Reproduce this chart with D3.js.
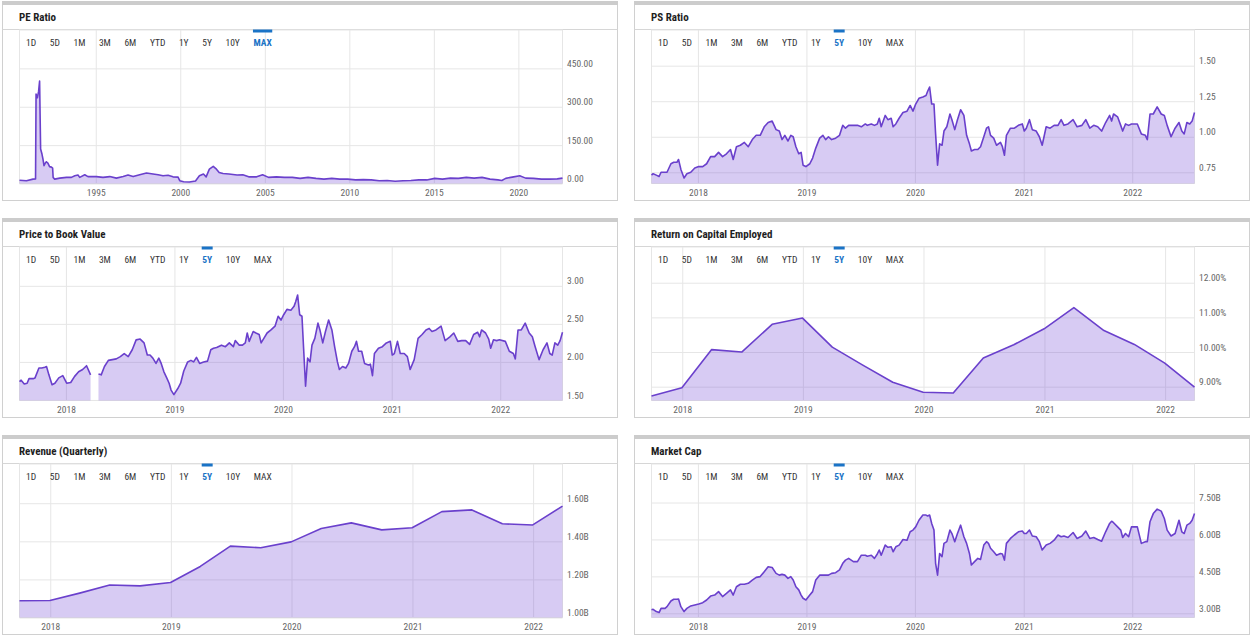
<!DOCTYPE html>
<html>
<head>
<meta charset="utf-8">
<script src="https://cdn.jsdelivr.net/npm/d3@7"></script>
<style>
  body { margin: 0; background: #fff; }
  svg text { font-family: "Liberation Sans Narrow", "Roboto Condensed", "Arial Narrow", Roboto, sans-serif; }
  .title { font-size: 11px; font-weight: bold; fill: #1e1e1e; }
  .btn { font-size: 9.5px; fill: #333; }
  .btn.on { fill: #1a73c6; font-weight: bold; }
  .tick text { font-size: 9.5px; fill: #666; }
</style>
</head>
<body>
<svg id="chart" width="1252" height="638"></svg>
<script>
// ---- data ----
const ranges = ['1D', '5D', '1M', '3M', '6M', 'YTD', '1Y', '5Y', '10Y', 'MAX'];

// PE ratio, decimal years
const peYears = [1990.49, 1990.90, 1991.29, 1991.44, 1991.47, 1991.55, 1991.62, 1991.68, 1991.74, 1991.82,
  1991.88, 1991.94, 1992.00, 1992.08, 1992.17, 1992.27, 1992.38, 1992.45, 1992.48, 1992.57,
  1992.87, 1993.27, 1993.56, 1993.76, 1993.95, 1994.05, 1994.35, 1994.54, 1995.04, 1995.43,
  1995.83, 1996.22, 1996.62, 1996.91, 1997.21, 1997.60, 1998.00, 1998.39, 1998.69, 1998.98,
  1999.28, 1999.57, 1999.87, 1999.97, 2000.20, 2000.54, 2000.90, 2001.13, 2001.37, 2001.53,
  2001.72, 2001.95, 2002.14, 2002.30, 2002.53, 2002.88, 2003.36, 2003.70, 2004.05, 2004.52,
  2004.87, 2005.22, 2005.69, 2006.16, 2006.63, 2007.09, 2007.56, 2008.03, 2008.50, 2008.96,
  2009.43, 2009.90, 2010.37, 2010.83, 2011.30, 2011.77, 2012.24, 2012.71, 2013.18, 2013.64,
  2014.11, 2014.58, 2015.05, 2015.51, 2015.98, 2016.45, 2016.92, 2017.38, 2017.85, 2018.32,
  2018.79, 2019.02, 2019.25, 2019.72, 2020.08, 2020.43, 2020.89, 2021.36, 2021.83, 2022.30, 2022.61];
const peValues = [13, 11, 17, 18, 350, 335, 360, 400, 135, 115,
  95, 70, 78, 85, 80, 66, 64, 60, 24, 17,
  21, 24, 24, 30, 33, 24, 34, 27, 27, 24,
  27, 21, 27, 33, 27, 34, 41, 37, 34, 30,
  32, 26, 25, 11, 7, 6, 10, 30, 37, 26,
  56, 67, 56, 43, 39, 37, 33, 34, 26, 26,
  34, 24, 26, 24, 24, 20, 24, 20, 17, 20,
  17, 17, 14, 15, 14, 11, 12, 9, 11, 12,
  14, 14, 20, 17, 21, 20, 24, 21, 24, 17,
  14, 12, 20, 26, 30, 21, 20, 17, 17, 18, 21];

// shared dates for the 5Y daily series, decimal years
const days5y = [2017.572, 2017.587, 2017.616, 2017.642, 2017.660, 2017.697, 2017.715, 2017.751, 2017.777, 2017.806,
  2017.821, 2017.843, 2017.872, 2017.898, 2017.934, 2017.971, 2018.007, 2018.044, 2018.080, 2018.117,
  2018.154, 2018.190, 2018.227, 2018.263, 2018.300, 2018.325, 2018.355, 2018.391, 2018.428, 2018.464,
  2018.501, 2018.537, 2018.574, 2018.611, 2018.647, 2018.684, 2018.720, 2018.750, 2018.775, 2018.801,
  2018.830, 2018.856, 2018.878, 2018.903, 2018.929, 2018.951, 2018.969, 2018.995, 2019.031, 2019.057,
  2019.086, 2019.122, 2019.152, 2019.177, 2019.203, 2019.232, 2019.269, 2019.305, 2019.335, 2019.360,
  2019.389, 2019.433, 2019.470, 2019.506, 2019.543, 2019.561, 2019.598, 2019.627, 2019.653, 2019.671,
  2019.689, 2019.726, 2019.751, 2019.781, 2019.799, 2019.824, 2019.854, 2019.890, 2019.927, 2019.956,
  2019.982, 2020.007, 2020.037, 2020.073, 2020.102, 2020.117, 2020.135, 2020.154, 2020.175, 2020.190,
  2020.208, 2020.227, 2020.249, 2020.267, 2020.293, 2020.322, 2020.340, 2020.366, 2020.391, 2020.420,
  2020.450, 2020.475, 2020.501, 2020.519, 2020.548, 2020.578, 2020.603, 2020.633, 2020.658, 2020.676,
  2020.695, 2020.724, 2020.750, 2020.786, 2020.804, 2020.823, 2020.841, 2020.878, 2020.914, 2020.951,
  2020.987, 2021.005, 2021.024, 2021.053, 2021.079, 2021.115, 2021.144, 2021.170, 2021.207, 2021.243,
  2021.280, 2021.316, 2021.345, 2021.371, 2021.408, 2021.455, 2021.492, 2021.536, 2021.572, 2021.609,
  2021.645, 2021.682, 2021.718, 2021.755, 2021.792, 2021.810, 2021.828, 2021.865, 2021.894, 2021.912,
  2021.938, 2021.967, 2021.993, 2022.047, 2022.084, 2022.121, 2022.139, 2022.164, 2022.194, 2022.230,
  2022.267, 2022.296, 2022.322, 2022.358, 2022.395, 2022.431, 2022.457, 2022.479, 2022.504, 2022.530,
  2022.552, 2022.574];

const psValues = [0.73, 0.74, 0.73, 0.72, 0.75, 0.75, 0.75, 0.81, 0.82, 0.82,
  0.84, 0.77, 0.71, 0.74, 0.75, 0.78, 0.79, 0.79, 0.81, 0.86,
  0.86, 0.89, 0.86, 0.88, 0.91, 0.84, 0.93, 0.94, 0.96, 0.93,
  0.98, 1.01, 1.01, 1.07, 1.10, 1.11, 1.05, 1.04, 0.98, 1.01,
  0.97, 1.01, 1.00, 0.93, 0.88, 0.89, 0.80, 0.79, 0.81, 0.85,
  0.92, 0.99, 1.01, 0.98, 1.00, 0.98, 0.99, 1.01, 1.08, 1.06,
  1.08, 1.08, 1.08, 1.07, 1.09, 1.08, 1.09, 1.08, 1.09, 1.13,
  1.07, 1.15, 1.12, 1.13, 1.07, 1.09, 1.13, 1.17, 1.18, 1.22,
  1.18, 1.23, 1.27, 1.28, 1.29, 1.32, 1.35, 1.23, 1.23, 1.02,
  0.80, 0.95, 0.94, 1.04, 1.07, 1.16, 1.12, 1.05, 1.12, 1.19,
  1.15, 1.01, 0.95, 0.90, 0.91, 0.91, 0.93, 1.00, 1.06, 1.07,
  1.01, 0.99, 0.94, 0.96, 0.93, 0.87, 1.01, 1.06, 1.06, 1.08,
  1.09, 1.04, 1.06, 1.12, 1.05, 1.04, 1.00, 0.94, 1.07, 1.06,
  1.08, 1.08, 1.12, 1.08, 1.09, 1.12, 1.07, 1.08, 1.12, 1.06,
  1.08, 1.07, 1.04, 1.10, 1.15, 1.11, 1.16, 1.14, 1.08, 1.04,
  1.09, 1.08, 1.09, 1.09, 1.02, 1.01, 0.98, 1.16, 1.16, 1.21,
  1.16, 1.15, 1.08, 1.00, 1.06, 1.10, 1.04, 1.02, 1.10, 1.09,
  1.11, 1.17];

const pbValues = [1.74, 1.76, 1.71, 1.72, 1.78, 1.78, 1.79, 1.92, 1.92, 1.93,
  1.94, 1.83, 1.70, 1.72, 1.79, 1.82, 1.72, 1.73, 1.81, 1.87,
  1.90, 1.95, 1.83, null, 1.84, 1.83, 1.94, 2.02, 2.03, 2.04,
  2.07, 2.11, 2.07, 2.16, 2.29, 2.30, 2.25, 2.09, 2.09, 2.05,
  1.98, 2.05, 1.98, 1.87, 1.79, 1.72, 1.63, 1.57, 1.65, 1.72,
  1.88, 2.00, 2.02, 2.00, 2.06, 1.98, 2.00, 2.01, 2.16, 2.18,
  2.19, 2.22, 2.20, 2.25, 2.20, 2.28, 2.22, 2.22, 2.25, 2.38,
  2.27, 2.40, 2.38, 2.36, 2.25, 2.31, 2.38, 2.42, 2.47, 2.60,
  2.55, 2.62, 2.69, 2.68, 2.73, 2.79, 2.88, 2.62, 2.60, 2.18,
  1.68, 2.05, 2.00, 2.22, 2.31, 2.51, 2.42, 2.25, 2.40, 2.55,
  2.42, 2.20, 2.00, 1.90, 1.94, 1.92, 1.98, 2.14, 2.20, 2.27,
  2.14, 2.14, 1.98, 1.96, 1.97, 1.82, 2.11, 2.18, 2.20, 2.25,
  2.27, 2.09, 2.11, 2.27, 2.11, 2.11, 2.07, 1.90, 2.03, 2.31,
  2.36, 2.42, 2.44, 2.40, 2.42, 2.47, 2.28, 2.33, 2.38, 2.27,
  2.28, 2.28, 2.23, 2.36, 2.39, 2.33, 2.42, 2.38, 2.30, 2.18,
  2.29, 2.28, 2.29, 2.27, 2.14, 2.11, 2.04, 2.42, 2.42, 2.51,
  2.38, 2.33, 2.20, 2.03, 2.16, 2.25, 2.11, 2.09, 2.25, 2.22,
  2.28, 2.39];

// market cap, billions
const mcValues = [3.14, 3.16, 3.07, 3.03, 3.20, 3.20, 3.27, 3.50, 3.57, 3.57,
  3.58, 3.27, 3.07, 3.20, 3.30, 3.34, 3.38, 3.43, 3.54, 3.70,
  3.74, 3.88, 3.68, 3.81, 3.95, 3.74, 4.08, 4.18, 4.18, 4.22,
  4.35, 4.46, 4.49, 4.69, 4.89, 4.86, 4.62, 4.55, 4.58, 4.55,
  4.42, 4.49, 4.35, 4.08, 3.95, 3.74, 3.61, 3.54, 3.74, 3.88,
  4.35, 4.55, 4.55, 4.55, 4.55, 4.62, 4.65, 4.76, 5.03, 5.16,
  5.23, 5.10, 5.10, 5.36, 5.36, 5.32, 5.36, 5.23, 5.41, 5.57,
  5.36, 5.77, 5.68, 5.70, 5.50, 5.70, 5.77, 6.00, 5.97, 6.31,
  6.38, 6.51, 6.78, 6.99, 6.99, 6.95, 6.99, 6.65, 6.38, 5.03,
  4.55, 5.43, 5.30, 5.84, 5.91, 6.38, 6.24, 5.91, 6.24, 6.58,
  6.11, 5.84, 5.43, 4.96, 5.10, 5.23, 5.19, 5.77, 5.91, 5.84,
  5.64, 5.50, 5.36, 5.43, 5.41, 5.16, 5.84, 6.04, 6.18, 6.31,
  6.34, 6.24, 6.24, 6.38, 6.14, 6.11, 5.91, 5.57, 5.77, 5.84,
  5.97, 6.18, 6.11, 6.14, 6.08, 6.28, 6.04, 6.14, 6.34, 6.04,
  6.08, 6.00, 5.93, 6.31, 6.65, 6.74, 6.68, 6.51, 6.38, 6.08,
  6.24, 6.11, 6.51, 6.51, 5.84, 5.91, 5.91, 6.72, 7.05, 7.23,
  7.15, 6.85, 6.38, 6.14, 6.24, 6.78, 6.31, 6.24, 6.58, 6.65,
  6.78, 7.05];

// quarterly series
const quarters = ['2017-09-30', '2017-12-31', '2018-03-31', '2018-06-30', '2018-09-30', '2018-12-31',
  '2019-03-31', '2019-06-30', '2019-09-30', '2019-12-31', '2020-03-31', '2020-06-30', '2020-09-30',
  '2020-12-31', '2021-03-31', '2021-06-30', '2021-09-30', '2021-12-31', '2022-03-31'];
const roceValues = [8.73, 8.97, 10.07, 10.00, 10.80, 10.98, 10.14, 9.63, 9.13, 8.84,
  8.82, 9.83, 10.21, 10.67, 11.28, 10.62, 10.22, 9.68, 8.99];
const revenueValues = [1.088, 1.089, 1.128, 1.171, 1.166, 1.184, 1.268, 1.375, 1.366, 1.397,
  1.467, 1.497, 1.460, 1.471, 1.556, 1.565, 1.492, 1.486, 1.585];

// axis ticks
const peTicks = [0, 150, 300, 450];
const psTicks = [0.75, 1.00, 1.25, 1.50];
const pbTicks = [1.5, 2.0, 2.5, 3.0];
const roceTicks = [9, 10, 11, 12];
const revenueTicks = [1.0, 1.2, 1.4, 1.6];
const mcTicks = [3.0, 4.5, 6.0, 7.5];
const peYearTicks = [1995, 2000, 2005, 2010, 2015, 2020];
const yearTicks5y = [2018, 2019, 2020, 2021, 2022];

// ---- helpers ----
function yearToDate(y) {
  const yr = Math.floor(y);
  const a = new Date(yr, 0, 1), b = new Date(yr + 1, 0, 1);
  return new Date(a.getTime() + (y - yr) * (b - a));
}
const parseDay = d3.timeParse('%Y-%m-%d');
const jan1 = y => new Date(y, 0, 1);

const panels = [
  { title: 'PE Ratio', col: 0, row: 0, dates: peYears.map(yearToDate), values: peValues,
    yDomain: [0, 600], yTicks: peTicks, fmt: d3.format('.2f'), xTicks: peYearTicks.map(jan1), active: 'MAX' },
  { title: 'PS Ratio', col: 1, row: 0, dates: days5y.map(yearToDate), values: psValues,
    yDomain: [0.671, 1.751], yTicks: psTicks, fmt: d3.format('.2f'), xTicks: yearTicks5y.map(jan1), active: '5Y' },
  { title: 'Price to Book Value', col: 0, row: 1, dates: days5y.map(yearToDate), values: pbValues,
    yDomain: [1.493, 3.51], yTicks: pbTicks, fmt: d3.format('.2f'), xTicks: yearTicks5y.map(jan1), active: '5Y' },
  { title: 'Return on Capital Employed', col: 1, row: 1, dates: quarters.map(parseDay), values: roceValues,
    yDomain: [8.602, 13.03], yTicks: roceTicks, fmt: d => d3.format('.2f')(d) + '%', xTicks: yearTicks5y.map(jan1), active: '5Y' },
  { title: 'Revenue (Quarterly)', col: 0, row: 2, dates: quarters.map(parseDay), values: revenueValues,
    yDomain: [1.0, 1.806], yTicks: revenueTicks, fmt: d => d3.format('.2f')(d) + 'B', xTicks: yearTicks5y.map(jan1), active: '5Y' },
  { title: 'Market Cap', col: 1, row: 2, dates: days5y.map(yearToDate), values: mcValues,
    yDomain: [2.829, 9.064], yTicks: mcTicks, fmt: d => d3.format('.2f')(d) + 'B', xTicks: yearTicks5y.map(jan1), active: '5Y' }
];

const svg = d3.select('#chart');
const plotLeft = 19.5, plotRight = 562.5, plotTop = 30, plotBottom = 183.5;

panels.forEach(p => {
  const g = svg.append('g').attr('transform', `translate(${p.col * 632},${p.row * 217})`);

  // card frame
  g.append('rect').attr('x', 2.5).attr('y', 4.5).attr('width', 615).attr('height', 196)
    .attr('fill', '#fff').attr('stroke', '#d0d0d0');
  g.append('rect').attr('x', 2).attr('y', 1).attr('width', 616).attr('height', 4).attr('fill', '#cccccc');
  g.append('line').attr('x1', 2.5).attr('x2', 617.5).attr('y1', 29.5).attr('y2', 29.5).attr('stroke', '#d6d6d6');
  g.append('text').attr('class', 'title').attr('x', 19).attr('y', 21).text(p.title);

  const x = d3.scaleTime().domain(d3.extent(p.dates)).range([plotLeft, plotRight]);
  const y = d3.scaleLinear().domain(p.yDomain).range([plotBottom, plotTop]);

  // grid
  g.append('g').attr('transform', `translate(0,${plotBottom})`)
    .call(d3.axisBottom(x).tickValues(p.xTicks).tickSize(-(plotBottom - plotTop)).tickFormat(''))
    .call(a => a.select('.domain').remove())
    .call(a => a.selectAll('line').attr('stroke', '#e6e6e6'));
  g.append('g').attr('transform', `translate(${plotLeft},0)`)
    .call(d3.axisLeft(y).tickValues(p.yTicks).tickSize(-(plotRight - plotLeft)).tickFormat(''))
    .call(a => a.select('.domain').remove())
    .call(a => a.selectAll('line').attr('stroke', '#e6e6e6'));
  g.append('rect').attr('x', plotLeft).attr('y', plotTop).attr('width', plotRight - plotLeft).attr('height', plotBottom - plotTop)
    .attr('fill', 'none').attr('stroke', '#e6e6e6');

  // series
  const pts = p.dates.map((d, i) => ({ d, v: p.values[i] }));
  const defined = e => e.v !== null;
  const area = d3.area().defined(defined).x(e => x(e.d)).y0(plotBottom).y1(e => y(e.v));
  const line = d3.line().defined(defined).x(e => x(e.d)).y(e => y(e.v));
  g.append('path').datum(pts).attr('d', area).attr('fill', '#7b52d6').attr('fill-opacity', 0.3);
  g.append('path').datum(pts).attr('d', line).attr('fill', 'none')
    .attr('stroke', '#6a40cc').attr('stroke-width', 1.6).attr('stroke-linejoin', 'round');

  // axis labels
  g.append('g').attr('transform', `translate(${plotRight},0)`)
    .call(d3.axisRight(y).tickValues(p.yTicks).tickSize(0).tickPadding(4.5).tickFormat(p.fmt))
    .call(a => a.select('.domain').remove())
    .call(a => a.selectAll('text').attr('y', -5));
  g.append('g').attr('transform', `translate(0,${plotBottom})`)
    .call(d3.axisBottom(x).tickValues(p.xTicks).tickSize(0).tickPadding(5.8).tickFormat(d3.timeFormat('%Y')))
    .call(a => a.select('.domain').remove());

  // range buttons
  let bx = 26;
  ranges.forEach(r => {
    const on = r === p.active;
    const t = g.append('text').attr('class', on ? 'btn on' : 'btn').attr('x', bx).attr('y', 46).text(r);
    const w = t.node().getComputedTextLength();
    if (on) g.append('rect').attr('x', bx - 0.5).attr('y', 29.5).attr('width', w + 1).attr('height', 3).attr('fill', '#1a73c6');
    bx += w + 13.6;
  });
});
</script>
</body>
</html>
